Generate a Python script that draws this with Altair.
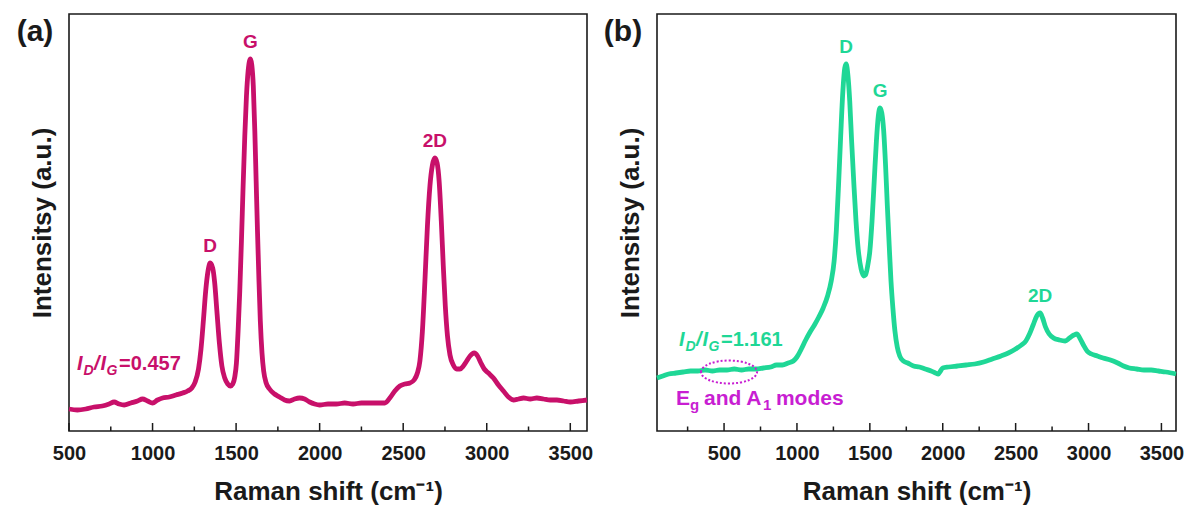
import altair as alt
import pandas as pd

FONT = "Liberation Sans"
INK = "#1a1a1a"
CRIMSON = "#C8106A"
MINT = "#1FD796"
VIOLET = "#C81ED2"
PLOT_H = 417

# ---- spectrum (a): Raman shift (cm-1) and intensity (a.u.) ----
shift_a = [500, 550, 600, 650, 700, 740, 770, 800, 830, 870, 910, 940, 970, 1000,
           1030, 1060, 1100, 1140, 1180, 1210, 1235, 1255, 1275, 1290, 1305, 1318,
           1332, 1345, 1360, 1372, 1385, 1400, 1415, 1432, 1450, 1466, 1480, 1492,
           1502, 1512, 1522, 1532, 1542, 1552, 1562, 1572, 1580, 1586, 1594, 1603,
           1612, 1620, 1628, 1636, 1645, 1655, 1665, 1680, 1700, 1730, 1760, 1790,
           1820, 1850, 1880, 1910, 1940, 1970, 2000, 2050, 2100, 2150, 2200, 2250,
           2300, 2350, 2390, 2420, 2450, 2480, 2510, 2540, 2565, 2585, 2600, 2615,
           2630, 2645, 2660, 2675, 2690, 2703, 2715, 2728, 2740, 2752, 2765, 2780,
           2800, 2820, 2840, 2860, 2880, 2900, 2925, 2945, 2965, 2985, 3010, 3040,
           3070, 3100, 3130, 3160, 3190, 3220, 3260, 3300, 3340, 3380, 3420, 3460,
           3500, 3550, 3600]
inten_a = [22, 21, 22, 24, 25, 27, 29, 27, 26, 28, 30, 32, 30, 28,
           31, 33, 34, 36, 38, 40, 43, 49, 62, 82, 112, 140,
           160, 168, 163, 148, 120, 88, 65, 53, 47, 45, 47, 54,
           68, 100, 140, 190, 245, 295, 335, 360, 370, 372, 366, 345,
           300, 250, 200, 155, 110, 78, 60, 48, 42, 37, 34, 31,
           30, 32, 33, 32, 29, 27, 26, 27, 27, 28, 27, 28,
           28, 28, 28, 33, 40, 45, 47, 48, 51, 58, 70, 100,
           150, 205, 245, 266, 273, 268, 250, 210, 165, 125, 95, 76,
           66, 62, 62, 65, 70, 75, 78, 75, 68, 62, 58, 53,
           46, 40, 34, 31, 32, 33, 32, 33, 32, 31, 31, 30,
           29, 30, 31]

# ---- spectrum (b) ----
shift_b = [40, 80, 120, 170, 220, 270, 320, 370, 420, 470, 520, 570, 620, 670,
           720, 770, 820, 860, 900, 940, 975, 1000, 1030, 1060, 1090, 1120, 1150,
           1180, 1210, 1235, 1255, 1270, 1285, 1300, 1315, 1328, 1338, 1350, 1362,
           1375, 1390, 1405, 1420, 1440, 1458, 1470, 1485, 1500, 1515, 1530, 1545,
           1558, 1570, 1582, 1595, 1608, 1620, 1633, 1645, 1658, 1672, 1688, 1705,
           1730, 1760, 1800, 1840, 1880, 1920, 1950, 1970, 1985, 2000, 2040, 2100,
           2160, 2220, 2280, 2340, 2400, 2450, 2500, 2540, 2570, 2595, 2620, 2645,
           2668, 2685, 2705, 2730, 2760, 2800, 2840, 2870, 2900, 2920, 2940, 2965,
           2990, 3020, 3060, 3100, 3150, 3200, 3240, 3280, 3330, 3380, 3430, 3480,
           3530, 3600]
inten_b = [53, 55, 57, 58, 59, 60, 60, 61, 60, 61, 61, 62, 61, 62,
           62, 63, 64, 66, 66, 68, 70, 74, 82, 91, 99, 106, 114,
           123, 135, 150, 170, 200, 245, 295, 340, 363, 367, 355, 330,
           290, 248, 210, 182, 162, 155, 156, 165, 180, 210, 250, 290,
           315, 323, 318, 300, 265, 225, 185, 150, 123, 100, 84, 75,
           70, 68, 65, 64, 62, 60, 58, 57, 60, 63, 64, 65,
           66, 67, 69, 72, 75, 78, 82, 86, 90, 97, 106, 115,
           118, 113, 104, 97, 93, 91, 90, 93, 96, 97, 93, 86,
           80, 77, 75, 73, 71, 68, 65, 63, 62, 61, 61, 60,
           59, 57]

# ---- band labels ----
peak_names = ["D", "G", "2D"]
peak_shift_a = [1345, 1586, 2690]
peak_inten_a = [168, 372, 273]
peak_shift_b = [1338, 1570, 2668]
peak_inten_b = [367, 323, 118]

ratio_a = "=0.457"
ratio_b = "=1.161"
ratio_anchor_a = [548, 61]
ratio_anchor_b = [191, 85]

modes_anchor = [170, 26]
ellipse_center = [534, 59]

major_ticks = [500, 1000, 1500, 2000, 2500, 3000, 3500]
minor_ticks_a = [750, 1250, 1750, 2250, 2750, 3250]
minor_ticks_b = [250, 750, 1250, 1750, 2250, 2750, 3250]

ELLIPSE = "M -1 0 A 1 0.41 0 1 1 1 0 A 1 0.41 0 1 1 -1 0 Z"


def one_row(x, y):
    return pd.DataFrame({"x": [x], "y": [y]})


def rich_text(pieces, anchor, color, xs, ys):
    """Row of text fragments sharing one baseline: (text, dx, dy, size, style)."""
    layers = []
    for text, dx, dy, size, style in pieces:
        layers.append(
            alt.Chart(one_row(*anchor)).mark_text(
                text=text, dx=dx, dy=dy, fontSize=size, fontStyle=style,
                fontWeight="bold", font=FONT, align="left", baseline="alphabetic",
                color=color,
            ).encode(
                x=alt.X("x:Q", scale=xs, axis=None),
                y=alt.Y("y:Q", scale=ys, axis=None),
            )
        )
    return layers


def ratio_pieces(value):
    return [
        ("I", 0, 0, 20, "italic"),
        ("D", 6.5, 5, 14, "italic"),
        ("/", 17, 0, 20, "italic"),
        ("I", 23.5, 0, 20, "italic"),
        ("G", 29.5, 5, 14, "italic"),
        (value, 42, 0, 20, "normal"),
    ]


def inward_ticks(values, length, xs):
    """Short tick marks rising from the bottom frame into the plot."""
    return alt.Chart(pd.DataFrame({"tick": values})).mark_rule(
        color=INK, strokeWidth=1.5
    ).encode(
        x=alt.X("tick:Q", scale=xs, axis=None),
        y=alt.value(PLOT_H),
        y2=alt.value(PLOT_H - length),
    )


def panel(tag, shift, inten, color, x_domain, width, minor, peak_shift, peak_inten,
          ratio, ratio_anchor, extra=None):
    xs = alt.Scale(domain=x_domain, nice=False, zero=False)
    ys = alt.Scale(domain=[0, PLOT_H], nice=False, zero=False)
    spec = pd.DataFrame({"shift": shift, "inten": inten})

    line = alt.Chart(spec).mark_line(
        color=color, strokeWidth=4.8, interpolate="monotone"
    ).encode(
        x=alt.X("shift:Q", scale=xs, axis=alt.Axis(
            orient="bottom", values=major_ticks, format="d", labelFlush=False,
            ticks=False, domain=False, grid=False, labelFont=FONT,
            labelFontSize=20, labelFontWeight="bold", labelColor=INK,
            labelPadding=12, title="Raman shift (cm⁻¹)", titleFont=FONT,
            titleFontSize=26, titleFontWeight="bold", titleColor=INK,
            titlePadding=15)),
        y=alt.Y("inten:Q", scale=ys, axis=alt.Axis(
            title="Intensitsy (a.u.)", labels=False, ticks=False, domain=False,
            grid=False, titleFont=FONT, titleFontSize=26, titleFontWeight="bold",
            titleColor=INK, titlePadding=14)),
    )

    peaks = pd.DataFrame({"name": peak_names, "pos": peak_shift, "top": peak_inten})
    labels = alt.Chart(peaks).mark_text(
        font=FONT, fontSize=19, fontWeight="bold", color=color, dy=-17,
        baseline="middle", align="center",
    ).encode(
        x=alt.X("pos:Q", scale=xs, axis=None),
        y=alt.Y("top:Q", scale=ys, axis=None),
        text="name:N",
    )

    tag_mark = alt.Chart(one_row(0, 0)).mark_text(
        text=tag, font=FONT, fontSize=30, fontWeight="bold", color=INK,
        align="center", baseline="middle",
    ).encode(x=alt.value(-34), y=alt.value(18))

    layers = [line, inward_ticks(major_ticks, 8, xs), inward_ticks(minor, 4.5, xs),
              labels, tag_mark]
    layers += rich_text(ratio_pieces(ratio), ratio_anchor, color, xs, ys)
    if extra:
        layers += extra(xs, ys)
    return alt.layer(*layers).resolve_axis(x="independent", y="independent").properties(
        width=width, height=PLOT_H)


def modes_note(xs, ys):
    ring = alt.Chart(one_row(*ellipse_center)).mark_point(
        shape=ELLIPSE, size=3136, filled=False, color=VIOLET, opacity=1,
        strokeWidth=2, strokeDash=[2, 2],
    ).encode(x=alt.X("x:Q", scale=xs, axis=None), y=alt.Y("y:Q", scale=ys, axis=None))
    pieces = [
        ("E", 0, 0, 21, "normal"),
        ("g", 14, 5, 15, "normal"),
        ("and A", 28, 0, 21, "normal"),
        ("1", 87, 5, 15, "normal"),
        ("modes", 100, 0, 21, "normal"),
    ]
    return [ring] + rich_text(pieces, modes_anchor, VIOLET, xs, ys)


panel_a = panel("(a)", shift_a, inten_a, CRIMSON, [500, 3600], 518, minor_ticks_a,
                peak_shift_a, peak_inten_a, ratio_a, ratio_anchor_a)
panel_b = panel("(b)", shift_b, inten_b, MINT, [40, 3600], 519, minor_ticks_b,
                peak_shift_b, peak_inten_b, ratio_b, ratio_anchor_b, extra=modes_note)

chart = (
    alt.hconcat(panel_a, panel_b, spacing=5)
    .properties(padding={"left": 15, "top": 13, "right": 5, "bottom": 5},
                background="white")
    .configure(font=FONT)
    .configure_view(stroke=INK, strokeWidth=1.6)
)

chart.save("out.html", embed_options={"renderer": "svg", "actions": False})
